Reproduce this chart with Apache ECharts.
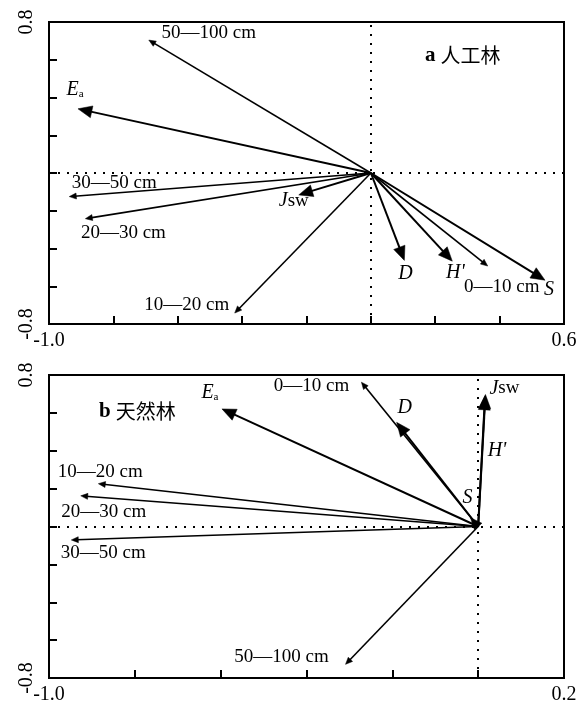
<!DOCTYPE html>
<html>
<head>
<meta charset="utf-8">
<title>RDA</title>
<script src="https://cdn.jsdelivr.net/npm/echarts@6/dist/echarts.min.js"></script>
<style>
  html, body { margin: 0; padding: 0; background: #fff; }
  #main { width: 584px; height: 703px; }
</style>
</head>
<body>
<div id="main"></div>
<script type="text/javascript">
// 图 a：人工林
var namesA = ['50—100 cm', 'Ea', '30—50 cm', '20—30 cm', 'Jsw', '10—20 cm', 'D', "H'", '0—10 cm', 'S'];
var xA = [-0.690, -0.910, -0.937, -0.887, -0.224, -0.423, 0.104, 0.253, 0.363, 0.541];
var yA = [0.704, 0.340, -0.125, -0.242, -0.116, -0.742, -0.463, -0.467, -0.493, -0.568];

// 图 b：天然林
var namesB = ['0—10 cm', 'Ea', 'D', 'Jsw', "H'", 'S', '10—20 cm', '20—30 cm', '30—50 cm', '50—100 cm'];
var xB = [-0.272, -0.597, -0.190, 0.017, 0.016, -0.018, -0.885, -0.926, -0.948, -0.309];
var yB = [0.762, 0.621, 0.550, 0.697, 0.690, 0.046, 0.226, 0.162, -0.071, -0.728];

// 坐标轴范围
var xRangeA = [-1.0, 0.6];
var xRangeB = [-1.0, 0.2];
var yRange = [-0.8, 0.8];
var tickStep = 0.2;

// 环境因子（粗箭头），其余为土层（细箭头）
var envVars = ['Ea', 'Jsw', 'D', "H'", 'S'];

// 标签相对箭头端点的偏移（像素）
var labelOffsetA = {
  '50—100 cm': [60, -7], 'Ea': [-3, -19], '30—50 cm': [45, -14], '20—30 cm': [38, 14],
  'Jsw': [-5, 6], '10—20 cm': [-48, -8], 'D': [1, 13], "H'": [3, 12], '0—10 cm': [14, 21], 'S': [4, 10]
};
var labelOffsetB = {
  '0—10 cm': [-50, 4], 'Ea': [-12, -16], 'D': [8, -15], 'Jsw': [19, -6], "H'": [12, 55],
  'S': [-3, -20], '10—20 cm': [2, -12], '20—30 cm': [23, 16], '30—50 cm': [32, 13], '50—100 cm': [-64, -7]
};

var serif = 'Liberation Serif';
var richLabel = {
  i: { fontFamily: serif, fontStyle: 'italic', fontSize: 20, fill: '#000', color: '#000' },
  n: { fontFamily: serif, fontSize: 19, fill: '#000', color: '#000' },
  sub: { fontFamily: serif, fontSize: 11, fill: '#000', color: '#000', verticalAlign: 'bottom', padding: [9, 0, 0, 0] }
};

function labelText(name) {
  if (name === 'Ea') return '{i|E}{sub|a}';
  if (name === 'Jsw') return '{i|J}{n|sw}';
  if (envVars.indexOf(name) >= 0) return '{i|' + name + '}';
  return '{n|' + name + '}';
}

function makeData(names, xs, ys) {
  var out = [];
  for (var i = 0; i < names.length; i++) {
    out.push({ name: names[i], value: [xs[i], ys[i], envVars.indexOf(names[i]) >= 0 ? 1 : 0] });
  }
  return out;
}

function arrowRenderer(names, offsets) {
  return function (params, api) {
    var name = names[params.dataIndex];
    var o = api.coord([0, 0]);
    var t = api.coord([api.value(0), api.value(1)]);
    var thick = api.value(2) === 1;
    var dx = t[0] - o[0], dy = t[1] - o[1];
    var len = Math.sqrt(dx * dx + dy * dy) || 1;
    var ux = dx / len, uy = dy / len;
    var L = thick ? 14 : 7, W = thick ? 12 : 6;
    if (L > len) { W = W * len / L; L = len; }
    var bx = t[0] - ux * L, by = t[1] - uy * L;
    var px = -uy * W / 2, py = ux * W / 2;
    var off = offsets[name] || [0, 0];
    return {
      type: 'group',
      children: [
        {
          type: 'line',
          shape: { x1: o[0], y1: o[1], x2: bx + ux * 2, y2: by + uy * 2 },
          style: { stroke: '#000', lineWidth: thick ? 2 : 1.6 }
        },
        {
          type: 'polygon',
          shape: { points: [[t[0], t[1]], [bx + px, by + py], [bx - px, by - py]] },
          style: { fill: '#000', stroke: '#000', lineWidth: 0.5 }
        },
        {
          type: 'text',
          x: t[0] + off[0],
          y: t[1] + off[1],
          style: {
            text: labelText(name),
            rich: richLabel,
            fill: '#000',
            font: '19px ' + serif,
            align: 'center',
            verticalAlign: 'middle'
          }
        }
      ]
    };
  };
}

function endLabel(range) {
  return function (v) {
    if (Math.abs(v - range[0]) < 1e-9 || Math.abs(v - range[1]) < 1e-9) return v.toFixed(1);
    return '';
  };
}

function xAxisFor(idx, range) {
  return {
    gridIndex: idx, type: 'value', min: range[0], max: range[1], interval: tickStep,
    axisLine: { onZero: false, lineStyle: { color: '#000', width: 2 } },
    axisTick: { inside: true, length: 8, lineStyle: { color: '#000', width: 2 } },
    axisLabel: {
      formatter: endLabel(range), color: '#000', fontFamily: serif, fontSize: 20,
      margin: 7, hideOverlap: false, showMinLabel: true, showMaxLabel: true
    },
    splitLine: { show: false }
  };
}

function yAxisFor(idx) {
  return {
    gridIndex: idx, type: 'value', min: yRange[0], max: yRange[1], interval: tickStep,
    axisLine: { onZero: false, lineStyle: { color: '#000', width: 2 } },
    axisTick: { inside: true, length: 8, lineStyle: { color: '#000', width: 2 } },
    axisLabel: {
      formatter: endLabel(yRange), color: '#000', fontFamily: serif, fontSize: 20,
      rotate: 90, margin: 12, align: 'center', verticalAlign: 'bottom',
      hideOverlap: false, showMinLabel: true, showMaxLabel: true
    },
    splitLine: { show: false }
  };
}

var zeroLines = {
  silent: true,
  symbol: 'none',
  label: { show: false },
  lineStyle: { color: '#000', width: 2, type: [2, 7] },
  data: [{ xAxis: 0 }, { yAxis: 0 }]
};

var titleRich = {
  a: { fontFamily: serif, fontWeight: 'bold', fontSize: 21, color: '#000' },
  c: { fontFamily: 'Noto Sans CJK SC', fontWeight: 'normal', fontSize: 20, color: '#000' }
};

var myChart = echarts.init(document.getElementById('main'));
myChart.setOption({
  backgroundColor: '#fff',
  animation: false,
  title: [
    { text: '{a|a} {c|人工林}', left: 420, top: 40, textStyle: { fontWeight: 'normal', rich: titleRich } },
    { text: '{a|b} {c|天然林}', left: 94, top: 396, textStyle: { fontWeight: 'normal', rich: titleRich } }
  ],
  grid: [
    { left: 49, right: 20, top: 22, height: 302, containLabel: false, outerBoundsMode: 'none',
      show: true, borderColor: '#000', borderWidth: 2, backgroundColor: 'transparent' },
    { left: 49, right: 20, top: 375, height: 303, containLabel: false, outerBoundsMode: 'none',
      show: true, borderColor: '#000', borderWidth: 2, backgroundColor: 'transparent' }
  ],
  xAxis: [xAxisFor(0, xRangeA), xAxisFor(1, xRangeB)],
  yAxis: [yAxisFor(0), yAxisFor(1)],
  series: [
    {
      type: 'custom', xAxisIndex: 0, yAxisIndex: 0,
      renderItem: arrowRenderer(namesA, labelOffsetA),
      data: makeData(namesA, xA, yA),
      markLine: zeroLines,
      clip: false
    },
    {
      type: 'custom', xAxisIndex: 1, yAxisIndex: 1,
      renderItem: arrowRenderer(namesB, labelOffsetB),
      data: makeData(namesB, xB, yB),
      markLine: zeroLines,
      clip: false
    }
  ]
});
</script>
</body>
</html>
